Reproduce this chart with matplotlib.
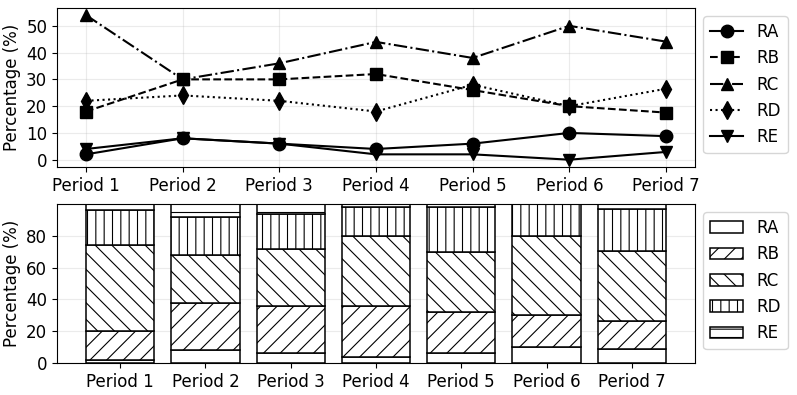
import numpy as np
import matplotlib
matplotlib.use("Agg")
import matplotlib.pyplot as plt

periods = ['Period 1', 'Period 2', 'Period 3', 'Period 4', 'Period 5', 'Period 6', 'Period 7']
series = ['RA', 'RB', 'RC', 'RD', 'RE']

ra = [2, 8, 6, 4, 6, 10, 8.8]
rb = [18, 30, 30, 32, 26, 20, 17.6]
rc = [54, 30, 36, 44, 38, 50, 44.1]
rd = [22, 24, 22, 18, 28, 20, 26.5]
re = [4, 8, 6, 2, 2, 0, 2.9]

values = [ra, rb, rc, rd, re]
markers = ['o', 's', '^', 'd', 'v']
linestyles = ['-', '--', '-.', ':', '-']
hatches = ['', '//', '\\\\', '||', '--']

plt.rcParams['font.size'] = 12
plt.rcParams['hatch.linewidth'] = 0.8

fig, (ax1, ax2) = plt.subplots(2, 1, figsize=(7.97, 3.95), dpi=100)
fig.subplots_adjust(left=0.0715, right=0.872, top=0.98, bottom=0.081, hspace=0.233)

x = np.arange(len(periods))

# line chart
for name, vals, m, ls in zip(series, values, markers, linestyles):
    ax1.plot(x, vals, color='black', linestyle=ls, marker=m, markersize=9,
             linewidth=1.5, label=name)
ax1.set_xticks(x)
ax1.set_xticklabels(periods)
ax1.set_yticks([0, 10, 20, 30, 40, 50])
ax1.set_ylabel('Percentage (%)')
ax1.grid(True, alpha=0.25)
ax1.legend(loc='upper left', bbox_to_anchor=(1.0, 1.0), fontsize=12)

# stacked bars
bottom = np.zeros(len(periods))
for name, vals, h in zip(series, values, hatches):
    ax2.bar(x, vals, width=0.8, bottom=bottom, color='white', edgecolor='black',
            hatch=h, linewidth=1.1, label=name)
    bottom += np.array(vals)
ax2.set_xticks(x)
ax2.set_xticklabels(periods)
ax2.set_ylabel('Percentage (%)')
ax2.set_ylim(0, 100)
ax2.set_yticks([0, 20, 40, 60, 80])
ax2.grid(True, axis='y', alpha=0.25)
ax2.set_axisbelow(True)
ax2.legend(loc='upper left', bbox_to_anchor=(1.0, 1.0), fontsize=12)

fig.savefig('out.png', dpi=100)
